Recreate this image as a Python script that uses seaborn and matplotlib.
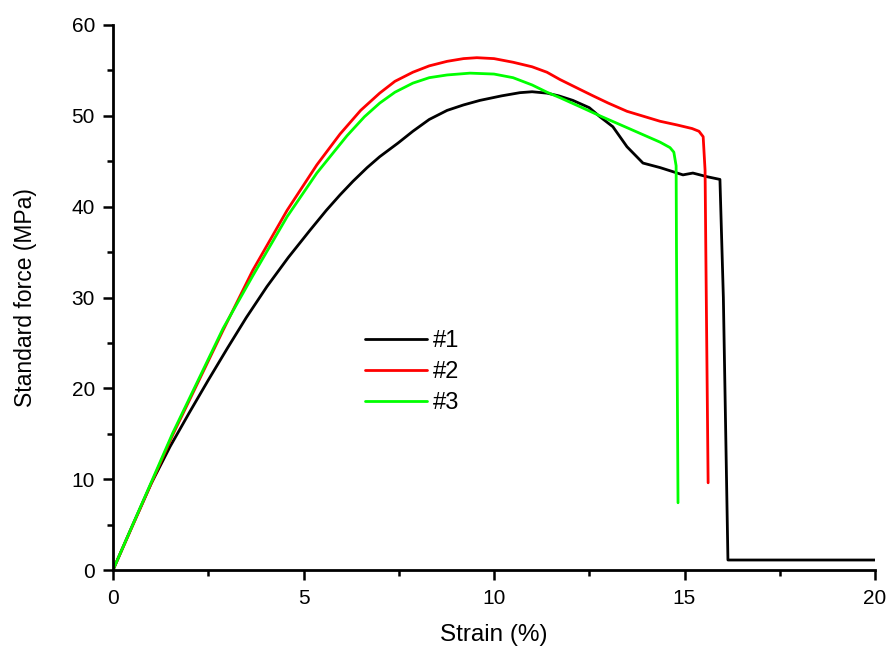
import matplotlib
matplotlib.use("Agg")
import matplotlib.pyplot as plt
from matplotlib.ticker import MultipleLocator
import seaborn as sns
import pandas as pd

# Sample #1 (black)
s1_strain = [0.0, 0.5, 1.0, 1.5, 2.0, 2.5, 3.0, 3.5, 4.04, 4.6, 5.17, 5.6, 5.96, 6.3, 6.67, 7.0, 7.48,
             7.87, 8.3, 8.77, 9.2, 9.63, 10.2, 10.68, 11.0, 11.39, 11.7, 12.07, 12.5, 12.78, 13.12,
             13.49, 13.91, 14.36, 14.96, 15.22, 15.59, 15.93, 16.02, 16.14, 17.0, 20.0]
s1_force = [0.0, 4.8, 9.5, 13.6, 17.3, 20.9, 24.4, 27.8, 31.2, 34.4, 37.4, 39.6, 41.3, 42.8, 44.3, 45.5,
            47.0, 48.3, 49.6, 50.6, 51.2, 51.7, 52.2, 52.55, 52.65, 52.5, 52.2, 51.7, 50.9, 49.9,
            48.8, 46.6, 44.8, 44.3, 43.5, 43.7, 43.3, 43.0, 30.0, 1.1, 1.1, 1.1]

# Sample #2 (red)
s2_strain = [0.0, 1.57, 2.89, 3.67, 4.57, 5.35, 5.96, 6.5, 7.0, 7.4, 7.87, 8.3, 8.77, 9.2, 9.55, 10.0,
             10.5, 11.0, 11.39, 11.73, 12.26, 12.6, 13.0, 13.49, 14.36, 14.8, 15.2, 15.38, 15.49,
             15.54, 15.56, 15.62]
s2_force = [0.0, 14.9, 26.4, 33.0, 39.6, 44.6, 48.0, 50.6, 52.5, 53.8, 54.8, 55.5, 56.0, 56.3, 56.4, 56.3,
            55.9, 55.4, 54.8, 54.0, 52.9, 52.2, 51.4, 50.5, 49.4, 49.0, 48.6, 48.3, 47.7,
            44.0, 35.0, 9.6]

# Sample #3 (green)
s3_strain = [0.0, 1.57, 2.89, 3.67, 4.57, 5.35, 6.14, 6.6, 7.0, 7.4, 7.87, 8.3, 8.77, 9.37, 10.0, 10.5,
             11.0, 11.39, 11.73, 12.26, 12.78, 13.49, 14.36, 14.62, 14.72, 14.78, 14.79, 14.83]
s3_force = [0.0, 15.1, 26.6, 32.4, 38.9, 43.7, 47.8, 49.9, 51.4, 52.6, 53.6, 54.2, 54.5, 54.7, 54.6, 54.2,
            53.4, 52.6, 52.0, 51.0, 50.0, 48.7, 47.1, 46.5, 46.0, 44.5, 35.0, 7.4]

labels = ["#1", "#2", "#3"]
colors = ["#000000", "#ff0000", "#00ff00"]

frames = []
for lab, xs, ys in zip(labels, [s1_strain, s2_strain, s3_strain], [s1_force, s2_force, s3_force]):
    frames.append(pd.DataFrame({"Strain": xs, "Force": ys, "Sample": lab}))
df = pd.concat(frames, ignore_index=True)

sns.set_style("white")
plt.rcParams["font.family"] = ["Liberation Sans", "DejaVu Sans"]
plt.rcParams["text.color"] = "black"
plt.rcParams["axes.labelcolor"] = "black"
plt.rcParams["xtick.color"] = "black"
plt.rcParams["ytick.color"] = "black"

fig = plt.figure(figsize=(8.92, 6.53), dpi=100)
ax = fig.add_axes([113/892, 1-570/653, (875-113)/892, (570-25)/653])

sns.lineplot(data=df, x="Strain", y="Force", hue="Sample", palette=dict(zip(labels, colors)),
             sort=False, estimator=None, units="Sample", linewidth=2.0, ax=ax)

ax.set_xlim(0, 20)
ax.set_ylim(0, 60)
ax.xaxis.set_major_locator(MultipleLocator(5))
ax.xaxis.set_minor_locator(MultipleLocator(2.5))
ax.yaxis.set_major_locator(MultipleLocator(10))
ax.yaxis.set_minor_locator(MultipleLocator(5))
ax.tick_params(which="major", direction="out", length=7.5, width=1.8, labelsize=15,
               bottom=True, left=True, top=False, right=False)
ax.tick_params(which="minor", direction="out", length=4, width=1.8,
               bottom=True, left=True, top=False, right=False)
ax.tick_params(axis="x", which="major", pad=6.5)
ax.tick_params(axis="y", which="major", pad=5.5)
for side in ["top", "right"]:
    ax.spines[side].set_visible(False)
for side in ["left", "bottom"]:
    ax.spines[side].set_linewidth(2.0)
    ax.spines[side].set_color("black")

ax.set_xlabel("Strain (%)", fontsize=17.5, labelpad=11.5)
ax.set_ylabel("Standard force (MPa)", fontsize=16.5, labelpad=25)

leg = ax.legend(loc="center left", bbox_to_anchor=(0.331, 0.363), frameon=False, fontsize=17,
                handlelength=2.6, handletextpad=0.25, labelspacing=0.39,
                borderpad=0, borderaxespad=0)
for h in leg.get_lines():
    h.set_linewidth(2.0)

fig.savefig("out.png", dpi=100)
